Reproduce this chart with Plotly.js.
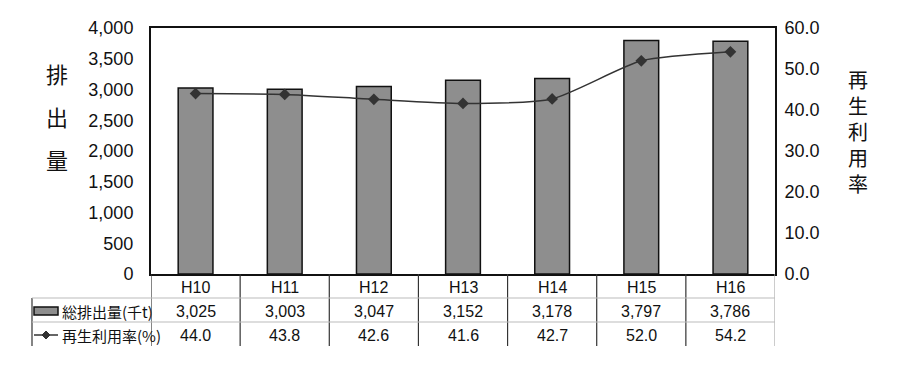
<!DOCTYPE html>
<html><head><meta charset="utf-8">
<script src="https://cdn.plot.ly/plotly-3.0.1.min.js"></script>
<style>html,body{margin:0;padding:0;background:#fff}#chart{width:900px;height:367px}</style>
</head><body><div id="chart"></div>
<script>
const categories = ['H10','H11','H12','H13','H14','H15','H16'];
const emissions = [3025, 3003, 3047, 3152, 3178, 3797, 3786];
const rates = [44.0, 43.8, 42.6, 41.6, 42.7, 52.0, 54.2];
const emissionLabel = '総排出量(千t)';
const rateLabel = '再生利用率(%)';
const leftTitle = ['排','出','量'];
const rightTitle = ['再','生','利','用','率'];

const FONT = 'Liberation Sans, Arial, Noto Sans CJK JP, sans-serif';
const L = 151, T = 28, R = 775, B = 274, W = R - L, H = B - T;
const X = px => (px - L) / W;
const Y = py => (B - py) / H;

const traces = [
  {type:'bar', x:categories.map((c,i)=>i), y:emissions, name:emissionLabel,
   marker:{color:'#8e8e8e', line:{color:'#111', width:1.5}}, width:0.39, hoverinfo:'skip'},
  {type:'scatter', mode:'lines+markers', x:categories.map((c,i)=>i), y:rates, yaxis:'y2', name:rateLabel,
   line:{color:'#333', width:1.5, shape:'spline', smoothing:0.6},
   marker:{symbol:'diamond', size:9, color:'#333'}, hoverinfo:'skip'}
];

const ann = [];
const shapes = [];
const A = (o) => Object.assign({showarrow:false, xanchor:'center', yanchor:'middle', yref:'paper'}, o);
categories.forEach((c,i)=>{
  ann.push(A({x:i, xref:'x', y:Y(287), text:c, font:{size:16, color:'#111', family:FONT}}));
  ann.push(A({x:i, xref:'x', y:Y(311), text:emissions[i].toLocaleString('en-US'), font:{size:16, color:'#111', family:FONT}}));
  ann.push(A({x:i, xref:'x', y:Y(335), text:rates[i].toFixed(1), font:{size:16, color:'#111', family:FONT}}));
});
ann.push(A({x:X(60), xref:'paper', xanchor:'left', y:Y(311), text:emissionLabel, font:{size:15, color:'#111', family:'Noto Sans CJK JP'}}));
ann.push(A({x:X(60), xref:'paper', xanchor:'left', y:Y(335), text:rateLabel, font:{size:15, color:'#111', family:'Noto Sans CJK JP'}}));
const leftY = [73, 116, 159];
leftTitle.forEach((ch,i)=>ann.push(A({x:X(57), xref:'paper', y:Y(leftY[i]), text:ch, font:{size:22, color:'#111', family:'Noto Sans CJK JP'}})));
ann.push(A({x:X(858), xref:'paper', y:Y(131), text:rightTitle.join('<br>'), font:{size:20, color:'#111', family:'Noto Sans CJK JP'}}));

for (let k=0;k<categories.length;k++){
  shapes.push({type:'line', xref:'x', yref:'paper', x0:k-0.5, x1:k-0.5, y0:Y(274), y1:Y(346), line:{color:'#333', width:1.2}});
}
shapes.push({type:'line', xref:'x', yref:'paper', x0:categories.length-0.5, x1:categories.length-0.5, y0:Y(274), y1:Y(346), line:{color:'#aaa', width:1.2}});
shapes.push({type:'line', xref:'paper', yref:'paper', x0:X(32), x1:X(32), y0:Y(298), y1:Y(346), line:{color:'#333', width:1.2}});
[298, 322].forEach(py=>shapes.push({type:'line', xref:'paper', yref:'paper', x0:X(32), x1:1, y0:Y(py), y1:Y(py), line:{color:'#bbb', width:1}}));
shapes.push({type:'rect', xref:'paper', yref:'paper', x0:X(34), x1:X(58), y0:Y(315), y1:Y(307), fillcolor:'#8e8e8e', line:{color:'#111', width:1.5}});
shapes.push({type:'line', xref:'paper', yref:'paper', x0:X(34), x1:X(58), y0:Y(335), y1:Y(335), line:{color:'#333', width:1.5}});
shapes.push({type:'path', xref:'paper', yref:'paper',
  path:`M ${X(46)} ${Y(331)} L ${X(50)} ${Y(335)} L ${X(46)} ${Y(339)} L ${X(42)} ${Y(335)} Z`, fillcolor:'#333', line:{color:'#333', width:1}});

const layout = {
  width:900, height:367, margin:{l:L, r:900-R, t:T, b:367-B},
  paper_bgcolor:'#fff', plot_bgcolor:'#fff', showlegend:false,
  font:{family:FONT, color:'#111'},
  xaxis:{range:[-0.5, categories.length-0.5], showticklabels:false, showgrid:false, zeroline:false,
         showline:true, mirror:true, linecolor:'#111', linewidth:2, ticks:'', fixedrange:true},
  yaxis:{range:[0,4000], dtick:500, tickformat:',d', showgrid:false, zeroline:false,
         showline:true, linecolor:'#111', linewidth:2, ticks:'', ticklabelstandoff:12,
         tickfont:{size:18, family:FONT, color:'#111'}},
  yaxis2:{range:[0,60], dtick:10, tickformat:'.1f', overlaying:'y', side:'right', showgrid:false, zeroline:false,
          showline:true, linecolor:'#111', linewidth:2, ticks:'', ticklabelstandoff:4,
          tickfont:{size:18, family:FONT, color:'#111'}},
  annotations:ann, shapes:shapes
};
Plotly.newPlot('chart', traces, layout, {displayModeBar:false, staticPlot:true});
</script></body></html>
